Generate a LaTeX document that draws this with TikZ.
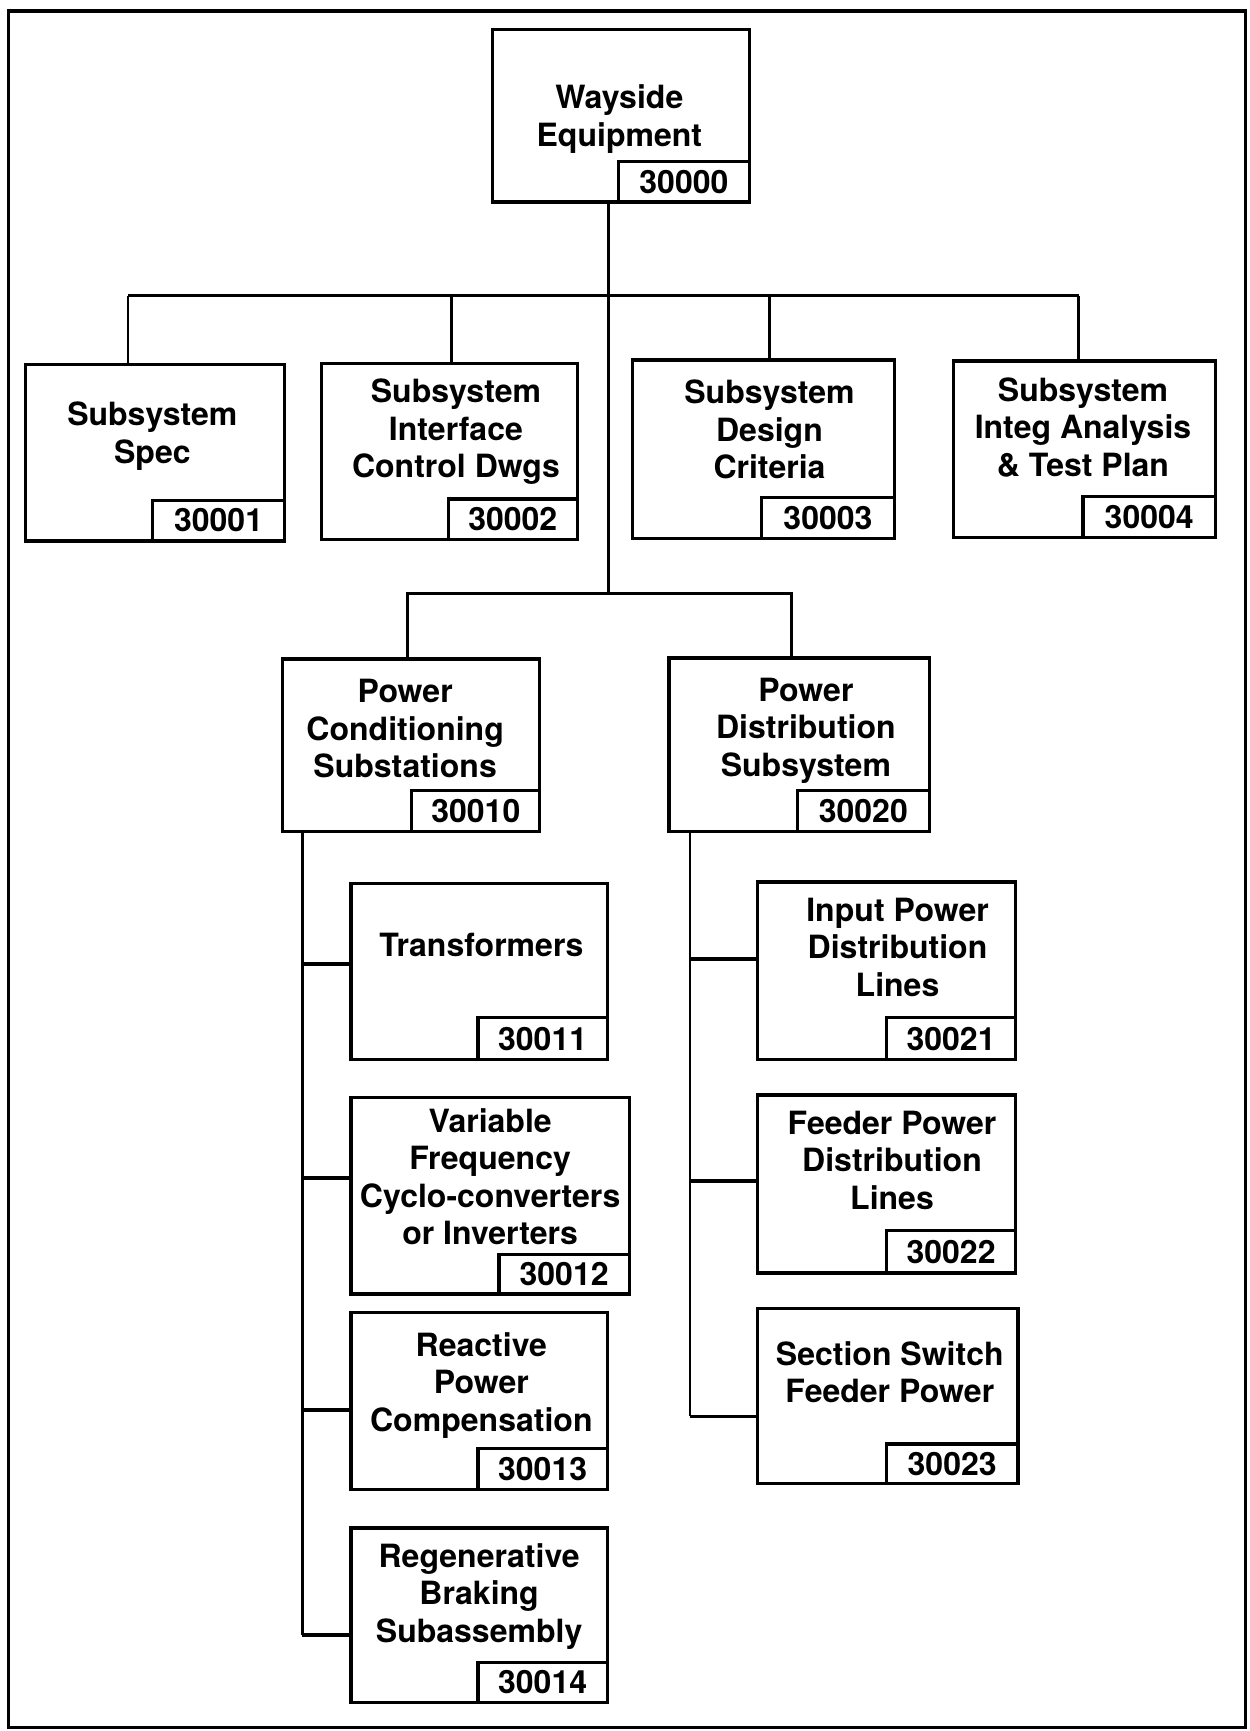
\documentclass[tikz,border=0pt]{standalone}
\usepackage{fontspec}
\setmainfont{TeX Gyre Heros}
\usetikzlibrary{fit}

\tikzset{
  boxst/.style={draw, line width=1.5pt, inner sep=0pt},
  idst/.style={draw, line width=1.4pt, inner sep=0pt},
  lbl/.style={align=center, inner sep=0pt, font=\fontsize{14.5}{17}\selectfont\bfseries},
  idlbl/.style={inner sep=0pt, font=\fontsize{14.5}{17}\selectfont\bfseries},
  conn/.style={line width=1.3pt},
  stub/.style={line width=1.7pt},
  frame/.style={line width=1.4pt}
}

% #1 name, #2-#5 box corners, #6 left edge of the number box, #7 top of the number box, #8 number
\newcommand{\wbsbox}[8]{%
  \node[boxst, fit={(#2,#3) (#4,#5)}] (#1) {};
  \node[idst, fit={(#6,#7) (#4,#5)}] (#1-id) {};
  \node[idlbl] at (#1-id.center) {#8};
}

\begin{document}
\begin{tikzpicture}[x=0.5pt, y=-0.5pt]
\useasboundingbox (0,0) rectangle (1132,1568);
\draw[frame] (8,10) rectangle (1128,1565);

% top element
\wbsbox{way}{446}{27}{679}{183}{560}{146}{30000}
\node[lbl] at (561,108) {Wayside\\Equipment};

% first level
\wbsbox{spec}{23}{330}{258}{490}{138}{453}{30001}
\node[lbl] at (138,395) {Subsystem\\Spec};
\wbsbox{icd}{291}{329}{523}{489}{406}{452}{30002}
\node[lbl] at (413,391) {Subsystem\\Interface\\Control Dwgs};
\wbsbox{crit}{573}{326}{810}{488}{690}{451}{30003}
\node[lbl] at (697,389) {Subsystem\\Design\\Criteria};
\wbsbox{integ}{864}{327}{1101}{487}{981}{450}{30004}
\node[lbl] at (981,387) {Subsystem\\Integ Analysis\\\& Test Plan};

% second level
\wbsbox{pcs}{256}{597}{489}{753}{373}{716}{30010}
\node[lbl] at (367,660) {Power\\Conditioning\\Substations};
\wbsbox{pds}{606}{596}{842}{753}{722}{716}{30020}
\node[lbl] at (730,662) {Power\\Distribution\\Subsystem};

% conditioning substations
\wbsbox{tf}{318}{800}{550}{960}{433}{922}{30011}
\node[lbl] at (436,856) {Transformers};
\wbsbox{vf}{318}{994}{570}{1172}{452}{1136}{30012}
\node[lbl] at (444,1066) {Variable\\Frequency\\Cyclo-converters\\or Inverters};
\wbsbox{rp}{318}{1189}{550}{1349}{433}{1312}{30013}
\node[lbl] at (436,1255) {Reactive\\Power\\Compensation};
\wbsbox{rb}{318}{1384}{550}{1542}{433}{1506}{30014}
\node[lbl] at (434,1446) {Regenerative\\Braking\\Subassembly};

% distribution subsystem
\wbsbox{ip}{686}{799}{920}{960}{803}{922}{30021}
\node[lbl] at (813,858) {Input Power\\Distribution\\Lines};
\wbsbox{fp}{686}{992}{920}{1153}{803}{1115}{30022}
\node[lbl] at (808,1051) {Feeder Power\\Distribution\\Lines};
\wbsbox{ss}{686}{1185}{922}{1344}{803}{1308}{30023}
\node[lbl] at (806,1243) {Section Switch\\Feeder Power};

% junction points
\coordinate (trunk) at (551,538);
\coordinate (bus-a) at (116,268);
\coordinate (bus-b) at (409,268);
\coordinate (bus-c) at (697,268);
\coordinate (bus-d) at (977,268);
\coordinate (mid-a) at (369,538);
\coordinate (mid-b) at (717,538);
\coordinate (lsp-1) at (274,873);
\coordinate (lsp-2) at (274,1067);
\coordinate (lsp-3) at (274,1277);
\coordinate (lsp-4) at (274,1481);
\coordinate (rsp-1) at (625,869);
\coordinate (rsp-2) at (625,1070);
\coordinate (rsp-3) at (625,1283);

% connectors
\draw[conn] (trunk |- way.south) -- (trunk);
\draw[conn] (bus-a) -- (bus-d);
\draw[conn] (bus-a) -- (bus-a |- spec.north);
\draw[conn] (bus-b) -- (bus-b |- icd.north);
\draw[conn] (bus-c) -- (bus-c |- crit.north);
\draw[conn] (bus-d) -- (bus-d |- integ.north);
\draw[conn] (mid-a |- pcs.north) -- (mid-a) -- (mid-b) -- (mid-b |- pds.north);

\draw[conn] (lsp-1 |- pcs.south) -- (lsp-4);
\draw[stub] (lsp-1) -- (lsp-1 -| tf.west);
\draw[stub] (lsp-2) -- (lsp-2 -| vf.west);
\draw[stub] (lsp-3) -- (lsp-3 -| rp.west);
\draw[stub] (lsp-4) -- (lsp-4 -| rb.west);

\draw[conn] (rsp-1 |- pds.south) -- (rsp-3);
\draw[stub] (rsp-1) -- (rsp-1 -| ip.west);
\draw[stub] (rsp-2) -- (rsp-2 -| fp.west);
\draw[stub] (rsp-3) -- (rsp-3 -| ss.west);
\end{tikzpicture}
\end{document}
